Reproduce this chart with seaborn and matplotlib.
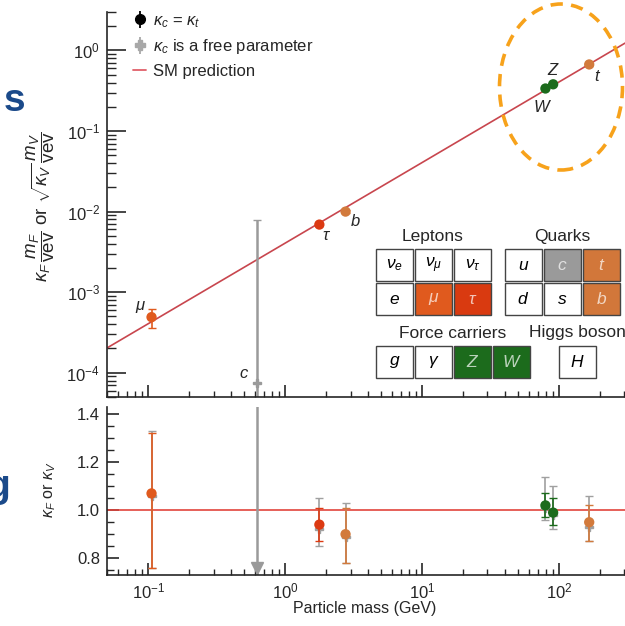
import numpy as np
import pandas as pd
import seaborn as sns
import matplotlib.pyplot as plt
from matplotlib.patches import Rectangle, Ellipse
from matplotlib.ticker import LogLocator, MultipleLocator, NullFormatter

# ---- data ----
particles = ['mu', 'tau', 'b', 'W', 'Z', 't']
mass = [0.1057, 1.777, 2.76, 79.5, 90.5, 166.0]          # GeV
coupling = [4.9e-4, 6.9e-3, 1.0e-2, 0.337, 0.38, 0.67]   # kappa*m/vev
coupling_lo = [3.6e-4, 6.6e-3, 0.95e-2, 0.33, 0.37, 0.64]
coupling_hi = [6.2e-4, 7.2e-3, 1.05e-2, 0.345, 0.39, 0.70]

kappa = [1.07, 0.94, 0.90, 1.02, 0.99, 0.95]
kappa_lo = [0.76, 0.87, 0.78, 0.97, 0.94, 0.87]
kappa_hi = [1.32, 1.01, 1.01, 1.07, 1.05, 1.02]
# kappa_c free parameter fit (grey)
kappa_free = [1.06, 0.92, 0.89, 1.01, 0.98, 0.93]
kappa_free_lo = [0.76, 0.85, 0.78, 0.96, 0.92, 0.87]
kappa_free_hi = [1.33, 1.05, 1.03, 1.14, 1.10, 1.06]

charm_mass = 0.62
charm_coupling = 7.5e-5
charm_coupling_range = [1e-6, 7.8e-3]
charm_kappa_range = [0.03, 3.1]

sm_mass = [0.05, 303.0]
sm_coupling = [2.03e-4, 1.232]

colors = {'mu': '#e05a1e', 'tau': '#dc3a12', 'b': '#d27a3c', 't': '#d27a3c',
          'W': '#1c6b1c', 'Z': '#1c6b1c'}
grey = '#9a9a9a'
label_text = {'mu': r'$\mu$', 'tau': r'$\tau$', 'b': '$b$', 'W': '$W$', 'Z': '$Z$', 't': '$t$'}
label_offset = {'mu': (-8, 7), 'tau': (5, -8), 'b': (7, -7), 'W': (-2, -13), 'Z': (0, 10), 't': (6, -9)}

df = pd.DataFrame({'particle': particles, 'mass': mass, 'coupling': coupling, 'kappa': kappa})

sns.set_theme(style='ticks')
plt.rcParams['font.family'] = ['Liberation Sans', 'DejaVu Sans']
plt.rcParams['mathtext.fontset'] = 'custom'
plt.rcParams['mathtext.rm'] = 'Liberation Sans'
plt.rcParams['mathtext.it'] = 'Liberation Sans:italic'
plt.rcParams['axes.linewidth'] = 1.2

fig = plt.figure(figsize=(6.25, 6.26), dpi=100)
ax = fig.add_axes([107/625, 1-397/626, 518/625, 385/626])
ax2 = fig.add_axes([107/625, 1-575/626, 518/625, 168/626])

# ---- top panel ----
ax.plot(sm_mass, sm_coupling, color='#c8464e', lw=1.2, zorder=1)
ax.errorbar([charm_mass], [charm_coupling],
            yerr=[[charm_coupling - charm_coupling_range[0]], [charm_coupling_range[1] - charm_coupling]],
            fmt='P', color=grey, ms=6, capsize=3, lw=1.8, zorder=2)
for i, p in enumerate(particles):
    ax.errorbar([mass[i]], [coupling[i]],
                yerr=[[coupling[i] - coupling_lo[i]], [coupling_hi[i] - coupling[i]]],
                fmt='none', ecolor=colors[p], capsize=3, lw=1.2, zorder=3)
sns.scatterplot(data=df, x='mass', y='coupling', hue='particle', palette=colors,
                s=55, edgecolor='none', legend=False, ax=ax, zorder=4)
for i, p in enumerate(particles):
    ax.annotate(label_text[p], (mass[i], coupling[i]), xytext=label_offset[p],
                textcoords='offset points', ha='center', va='center', fontsize=12)
ax.annotate('$c$', (charm_mass, charm_coupling), xytext=(-9, 7),
            textcoords='offset points', ha='center', va='center', fontsize=12)

ax.set_xscale('log')
ax.set_yscale('log')
ax.set_xlim(0.05, 303)
ax.set_ylim(5e-5, 3.0)
ax.set_xlabel('')
ax.set_ylabel('')
ax.tick_params(axis='x', which='both', labelbottom=False)
ax.yaxis.set_major_locator(LogLocator(base=10, numticks=10))
ax.yaxis.set_minor_locator(LogLocator(base=10, subs=np.arange(2, 10), numticks=20))
ax.yaxis.set_minor_formatter(NullFormatter())
ax.tick_params(axis='y', which='major', direction='in', length=13.5, width=1.2, labelsize=12, pad=5)
ax.tick_params(axis='y', which='minor', direction='in', length=6.5, width=1.0)
ax.tick_params(axis='x', which='major', direction='in', length=9, width=1.2)
ax.tick_params(axis='x', which='minor', direction='in', length=4.5, width=1.0)
sns.despine(ax=ax)

# ---- bottom panel ----
ax2.axhline(1.0, color='#e2443c', lw=1.2, zorder=1)
ax2.vlines(charm_mass, *charm_kappa_range, color=grey, lw=1.8, zorder=2)
ax2.plot([charm_mass], [0.758], marker='v', ms=8, color=grey, zorder=2, clip_on=False)
for i, p in enumerate(particles):
    ax2.errorbar([mass[i]], [kappa_free[i]],
                 yerr=[[kappa_free[i] - kappa_free_lo[i]], [kappa_free_hi[i] - kappa_free[i]]],
                 fmt='P', color='#a0a0a0', ms=6, capsize=3, lw=1.2, zorder=2)
for i, p in enumerate(particles):
    ax2.errorbar([mass[i]], [kappa[i]],
                 yerr=[[kappa[i] - kappa_lo[i]], [kappa_hi[i] - kappa[i]]],
                 fmt='none', ecolor=colors[p], capsize=3, lw=1.2, zorder=3)
sns.scatterplot(data=df, x='mass', y='kappa', hue='particle', palette=colors,
                s=55, edgecolor='none', legend=False, ax=ax2, zorder=4)
ax2.set_xscale('log')
ax2.set_xlim(0.05, 303)
ax2.set_ylim(0.73, 1.43)
ax2.set_xlabel('')
ax2.set_ylabel('')
ax2.yaxis.set_major_locator(MultipleLocator(0.2))
ax2.yaxis.set_minor_locator(MultipleLocator(0.05))
ax2.yaxis.set_major_formatter(plt.FuncFormatter(lambda v, _: f'{v:.1f}'))
ax2.tick_params(axis='y', which='major', direction='in', length=8.5, width=1.2, labelsize=12, pad=5)
ax2.tick_params(axis='y', which='minor', direction='in', length=5, width=1.0)
ax2.tick_params(axis='x', which='major', direction='in', length=9, width=1.2, labelsize=12, pad=5)
ax2.tick_params(axis='x', which='minor', direction='in', length=4.5, width=1.0)
sns.despine(ax=ax2)

# axis labels
fig.text(41/625, 1-207/626,
         r'$\kappa_F\,\dfrac{m_F}{\mathrm{vev}}$ or $\sqrt{\kappa_V}\,\dfrac{m_V}{\mathrm{vev}}$',
         rotation=90, ha='center', va='center', fontsize=13.5)
fig.text(50/625, 1-490/626, r'$\kappa_F$ or $\kappa_V$', rotation=90,
         ha='center', va='center', fontsize=11.5)
fig.text(365/625, 1-609/626, 'Particle mass (GeV)', ha='center', va='center', fontsize=11.5)

# legend
h1 = ax.errorbar([], [], yerr=[], fmt='o', color='black', ms=7, capsize=3.5, lw=1.3,
                 label=r'$\kappa_c$ = $\kappa_t$')
h2 = ax.errorbar([], [], yerr=[], fmt='P', color='#a8a8a8', ms=7, capsize=3.5, lw=1.3,
                 label=r'$\kappa_c$ is a free parameter')
h3, = ax.plot([], [], color='#e0606a', lw=1.3, label='SM prediction')
fig.legend(handles=[h1, h2, h3], loc='upper left', bbox_to_anchor=(133/625, 1-13/626),
           frameon=False, fontsize=12, handlelength=0.8, handletextpad=0.4,
           labelspacing=0.45, borderpad=0, borderaxespad=0)

# highlight ellipse
fig.add_artist(Ellipse((561/625, 1-87/626), 123/625, 166/626, transform=fig.transFigure,
                       fill=False, ec='#f7a21b', lw=2.6, ls=(0, (3.4, 2.3))))

# particle table inset
tab = fig.add_axes([360/625, 1-390/626, 265/625, 175/626])
tab.set_xlim(360, 625)
tab.set_ylim(390, 215)
tab.axis('off')
tab.patch.set_alpha(0)

box_labels = [r'$\nu_e$', r'$\nu_\mu$', r'$\nu_\tau$', '$u$', '$c$', '$t$',
              '$e$', r'$\mu$', r'$\tau$', '$d$', '$s$', '$b$',
              '$g$', r'$\gamma$', '$Z$', '$W$', '$H$']
box_fill = ['white', 'white', 'white', 'white', '#9a9a9a', '#d2773a',
            'white', '#e05a1e', '#d93a10', 'white', 'white', '#d2773a',
            'white', 'white', '#1c6b1c', '#1c6b1c', 'white']
box_x = [376, 415, 454, 505, 544, 583,
         376, 415, 454, 505, 544, 583,
         376, 415, 454, 493, 559]
box_y = [249] * 6 + [283] * 6 + [346] * 5
for lab, fc, bx, by in zip(box_labels, box_fill, box_x, box_y):
    tab.add_patch(Rectangle((bx, by), 37, 32, fc=fc, ec='#444444', lw=1.0))
    tc = 'black' if fc == 'white' else (1, 1, 1, 0.7)
    tab.text(bx + 18.5, by + 16, lab, ha='center', va='center', fontsize=12.5, color=tc)
for txt, tx, ty in [('Leptons', 433, 236), ('Quarks', 562, 236),
                    ('Force carriers', 453, 333), ('Higgs boson', 577, 333)]:
    tab.text(tx, ty, txt, ha='center', va='center', fontsize=12.5)

# cropped slide lettering at the left edge
fig.text(4/625, 1-101/626, 's', color='#1b4a8a', fontsize=28, fontweight='bold',
         ha='left', va='center')
fig.text(10/625, 1-487/626, 'g', color='#1b4a8a', fontsize=28, fontweight='bold',
         ha='right', va='center')

fig.savefig('out.png', dpi=100)
